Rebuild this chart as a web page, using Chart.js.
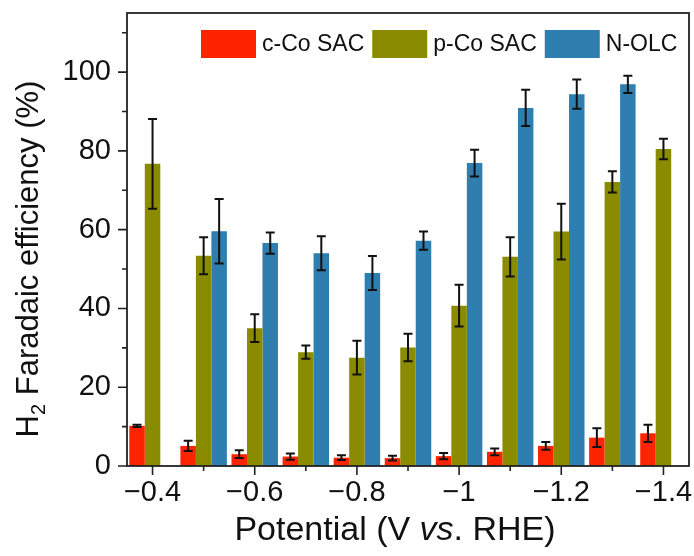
<!DOCTYPE html>
<html>
<head>
<meta charset="utf-8">
<script src="https://cdn.jsdelivr.net/npm/chart.js@4/dist/chart.umd.min.js"></script>
<style>
html,body{margin:0;padding:0;background:#fff;}
#wrap{width:694px;height:556px;}
</style>
</head>
<body>
<div id="wrap"><canvas id="c" width="694" height="556"></canvas></div>
<script>
// ---- data ----
const potentials = [-0.4, -0.5, -0.6, -0.7, -0.8, -0.9, -1.0, -1.1, -1.2, -1.3, -1.4];
const xTickLabels = ['\u22120.4', '', '\u22120.6', '', '\u22120.8', '', '\u22121', '', '\u22121.2', '', '\u22121.4'];
const yTickValues = [0, 20, 40, 60, 80, 100];
const yMinorValues = [10, 30, 50, 70, 90, 110];

const seriesNames = ['c-Co SAC', 'p-Co SAC', 'N-OLC'];
const cCoSAC    = [10.2, 5.1, 3.0, 2.4, 2.1, 2.0, 2.5, 3.6, 5.1, 7.2, 8.3];
const cCoSACErr = [0.3, 1.3, 1.0, 0.8, 0.6, 0.6, 0.8, 0.85, 1.0, 2.4, 2.2];
const pCoSAC    = [76.7, 53.4, 35.0, 28.9, 27.5, 30.1, 40.7, 53.1, 59.5, 72.1, 80.5];
const pCoSACErr = [11.4, 4.7, 3.5, 1.7, 4.3, 3.5, 5.3, 5.0, 7.1, 2.7, 2.6];
const nOLC      = [null, 59.6, 56.6, 54.0, 49.0, 57.2, 76.9, 90.9, 94.4, 96.9, null];
const nOLCErr   = [null, 8.2, 2.7, 4.3, 4.3, 2.3, 3.4, 4.6, 3.7, 2.2, null];

const colors = ['#ff2400', '#8b8b00', '#2e7eb0'];
const FONT = "'Liberation Sans', Arial, Helvetica, sans-serif";

const errors = [cCoSACErr, pCoSACErr, nOLCErr];

const deco = {
  id: 'deco',
  afterDatasetsDraw(chart) {
    const ctx = chart.ctx, ys = chart.scales.y;
    ctx.save();
    ctx.strokeStyle = '#111';
    ctx.lineWidth = 2;
    chart.data.datasets.forEach((ds, d) => {
      const meta = chart.getDatasetMeta(d);
      ds.data.forEach((v, i) => {
        const e = errors[d][i];
        if (v === null || e === null) return;
        const x = meta.data[i].x;
        const yT = ys.getPixelForValue(v + e), yB = ys.getPixelForValue(v - e);
        const cw = 4.5;
        ctx.beginPath();
        ctx.moveTo(x, yT); ctx.lineTo(x, yB);
        ctx.moveTo(x - cw, yT); ctx.lineTo(x + cw, yT);
        ctx.moveTo(x - cw, yB); ctx.lineTo(x + cw, yB);
        ctx.stroke();
      });
    });
    ctx.restore();
  },
  afterDraw(chart) {
    const ctx = chart.ctx, a = chart.chartArea;
    const xs = chart.scales.x, ys = chart.scales.y;
    ctx.save();
    // frame
    ctx.strokeStyle = '#222';
    ctx.lineWidth = 1.8;
    ctx.strokeRect(a.left, a.top, a.right - a.left, a.bottom - a.top);
    // x ticks
    ctx.lineWidth = 1.6;
    ctx.beginPath();
    potentials.forEach((p, i) => {
      const x = xs.getPixelForValue(i);
      const len = (i % 2 === 0) ? 9 : 5;
      ctx.moveTo(x, a.bottom); ctx.lineTo(x, a.bottom + len);
    });
    // y ticks
    yTickValues.forEach(v => {
      const y = ys.getPixelForValue(v);
      ctx.moveTo(a.left, y); ctx.lineTo(a.left - 9, y);
    });
    yMinorValues.forEach(v => {
      const y = ys.getPixelForValue(v);
      ctx.moveTo(a.left, y); ctx.lineTo(a.left - 5, y);
    });
    ctx.stroke();

    ctx.fillStyle = '#111';
    // y title
    ctx.save();
    ctx.translate(38, 259);
    ctx.rotate(-Math.PI / 2);
    const big = 31, small = 20;
    ctx.font = big + 'px ' + FONT;
    const wH = ctx.measureText('H').width;
    const rest = ' Faradaic efficiency (%)';
    const wR = ctx.measureText(rest).width;
    ctx.font = small + 'px ' + FONT;
    const w2 = ctx.measureText('2').width;
    let sx = -(wH + w2 + wR) / 2;
    ctx.textBaseline = 'alphabetic';
    ctx.textAlign = 'left';
    ctx.font = big + 'px ' + FONT;
    ctx.fillText('H', sx, 0); sx += wH;
    ctx.font = small + 'px ' + FONT;
    ctx.fillText('2', sx, 7); sx += w2;
    ctx.font = big + 'px ' + FONT;
    ctx.fillText(rest, sx, 0);
    ctx.restore();

    // x title
    const parts = [['Potential (V ', 'normal'], ['vs', 'italic'], ['. RHE)', 'normal']];
    const fs = 34;
    let tw = 0;
    parts.forEach(p => { ctx.font = p[1] + ' ' + fs + 'px ' + FONT; p.push(ctx.measureText(p[0]).width); tw += p[2]; });
    let px = 395 - tw / 2;
    ctx.textBaseline = 'alphabetic';
    ctx.textAlign = 'left';
    parts.forEach(p => { ctx.font = p[1] + ' ' + fs + 'px ' + FONT; ctx.fillText(p[0], px, 540); px += p[2]; });

    // legend
    ctx.font = '23px ' + FONT;
    ctx.textBaseline = 'middle';
    let lx = 201;
    const ly = 30, bw = 55, bh = 28;
    chart.data.datasets.forEach((ds, d) => {
      ctx.fillStyle = ds.backgroundColor;
      ctx.fillRect(lx, ly, bw, bh);
      lx += bw + 6;
      ctx.fillStyle = '#111';
      ctx.fillText(ds.label, lx, ly + bh / 2 + 1);
      lx += ctx.measureText(ds.label).width + 8;
    });
    ctx.restore();
  }
};

new Chart(document.getElementById('c'), {
  type: 'bar',
  data: {
    labels: potentials.map(String),
    datasets: [
      { label: seriesNames[0], data: cCoSAC, backgroundColor: colors[0] },
      { label: seriesNames[1], data: pCoSAC, backgroundColor: colors[1] },
      { label: seriesNames[2], data: nOLC, backgroundColor: colors[2] }
    ]
  },
  options: {
    responsive: false,
    animation: false,
    devicePixelRatio: 1,
    layout: { padding: { top: 13, right: 5, left: 0, bottom: 0 } },
    datasets: { bar: { categoryPercentage: 0.91, barPercentage: 1.0, borderWidth: 0 } },
    plugins: { legend: { display: false }, tooltip: { enabled: false } },
    scales: {
      x: {
        type: 'category',
        offset: true,
        grid: { display: false, drawTicks: false },
        border: { display: false },
        ticks: {
          autoSkip: false, maxRotation: 0, minRotation: 0, padding: 10,
          color: '#111', font: { family: FONT, size: 29 },
          callback: (v, i) => xTickLabels[i]
        },
        afterFit: s => { s.height = 90; s.paddingLeft = 0; s.paddingRight = 0; }
      },
      y: {
        min: 0, max: 115,
        grid: { display: false, drawTicks: false },
        border: { display: false },
        ticks: { padding: 16, color: '#111', font: { family: FONT, size: 29 } },
        afterBuildTicks: s => { s.ticks = yTickValues.map(v => ({ value: v })); },
        afterFit: s => { s.width = 127; s.paddingTop = 0; s.paddingBottom = 0; }
      }
    }
  },
  plugins: [deco]
});
</script>
</body>
</html>
